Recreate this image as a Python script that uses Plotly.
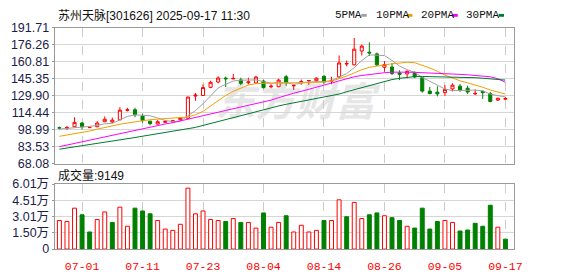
import plotly.graph_objects as go

W, H = 578, 276

dates = ["06-26", "06-27", "06-30", "07-01", "07-02", "07-03", "07-04", "07-07", "07-08", "07-09",
         "07-10", "07-11", "07-14", "07-15", "07-16", "07-17", "07-18", "07-21", "07-22", "07-23",
         "07-24", "07-25", "07-28", "07-29", "07-30", "07-31", "08-01", "08-04", "08-05", "08-06",
         "08-07", "08-08", "08-11", "08-12", "08-13", "08-14", "08-15", "08-18", "08-19", "08-20",
         "08-21", "08-22", "08-25", "08-26", "08-27", "08-28", "08-29", "09-01", "09-02", "09-03",
         "09-04", "09-05", "09-08", "09-09", "09-10", "09-11", "09-12", "09-15", "09-16", "09-17"]

opens = [100.7, 100.2, 101.6, 105.0, 100.8, 101.6, 106.2, 105.9, 107.9, 116.5,
         117.0, 111.3, 106.7, 104.0, 105.6, 106.1, 108.0, 109.3, 129.5, 130.0,
         137.4, 142.3, 145.8, 145.1, 144.2, 141.6, 141.4, 143.1, 137.9, 138.0,
         147.0, 138.8, 142.0, 143.4, 143.4, 147.4, 142.9, 146.8, 158.6, 157.9,
         170.4, 169.3, 167.8, 155.6, 155.9, 150.5, 149.6, 150.8, 146.2, 134.0,
         133.0, 132.6, 136.0, 138.5, 136.6, 131.5, 133.8, 131.7, 125.8, 126.6]
highs = [101.8, 102.4, 110.2, 105.9, 101.5, 106.7, 111.0, 109.9, 119.5, 118.7,
         118.9, 113.6, 106.9, 107.6, 107.6, 107.8, 110.0, 128.8, 132.3, 140.0,
         143.4, 147.4, 147.2, 149.6, 146.2, 146.2, 147.8, 144.5, 140.2, 145.2,
         148.7, 140.2, 144.5, 143.8, 146.5, 148.7, 147.0, 166.4, 161.8, 182.3,
         176.3, 178.3, 169.0, 161.3, 159.6, 153.0, 153.0, 152.0, 146.4, 137.7,
         138.3, 139.4, 141.1, 140.5, 138.9, 135.5, 134.0, 133.2, 128.0, 128.6]
lows = [99.3, 98.6, 101.2, 99.1, 100.4, 101.2, 105.8, 104.8, 107.5, 115.5,
        110.2, 105.3, 102.8, 103.8, 105.3, 105.4, 106.8, 108.4, 125.2, 129.8,
        136.6, 141.1, 137.7, 144.9, 139.4, 140.0, 140.5, 136.5, 136.6, 137.5,
        138.9, 135.1, 139.7, 139.7, 142.2, 140.8, 140.2, 146.0, 156.4, 157.3,
        166.4, 165.8, 156.8, 151.6, 148.7, 144.0, 145.7, 145.9, 132.6, 131.2,
        129.2, 129.7, 133.8, 133.4, 131.5, 130.3, 126.9, 123.8, 125.2, 125.9]
closes = [100.4, 100.9, 105.6, 101.6, 101.0, 105.0, 108.4, 107.6, 116.7, 117.0,
          112.5, 107.3, 104.5, 106.2, 106.3, 107.1, 109.5, 128.6, 130.3, 137.2,
          142.0, 145.9, 145.2, 145.5, 141.1, 142.3, 146.8, 137.1, 138.5, 144.0,
          141.7, 139.1, 142.5, 143.6, 145.7, 142.3, 143.6, 159.6, 159.0, 172.1,
          174.9, 168.7, 157.9, 158.1, 149.9, 149.2, 151.9, 146.8, 134.0, 131.7,
          131.5, 135.5, 139.4, 134.6, 133.2, 131.9, 132.6, 124.6, 127.5, 127.3]

ma5 = [99.5, 100.0, 101.0, 101.3, 101.9, 102.8, 104.3, 104.7, 107.7, 111.0,
       112.4, 112.2, 111.6, 109.5, 107.3, 106.3, 106.7, 111.5, 116.3, 122.5,
       129.5, 136.8, 140.2, 143.2, 143.9, 144.0, 144.2, 142.6, 141.2, 141.7,
       141.6, 140.1, 141.2, 142.2, 142.5, 142.6, 143.5, 147.0, 150.0, 155.3,
       161.8, 166.9, 166.5, 166.3, 161.9, 156.7, 153.4, 151.1, 146.4, 142.7,
       139.2, 135.9, 134.4, 134.5, 134.8, 134.9, 134.3, 131.3, 129.9, 128.7]
ma10 = [92.9, 94.0, 95.3, 96.5, 97.7, 99.4, 101.0, 102.5, 103.9, 105.0,
        106.2, 107.2, 108.0, 108.5, 109.0, 109.3, 109.4, 110.5, 112.5, 115.5,
        120.5, 125.5, 130.0, 133.8, 137.0, 139.5, 140.8, 141.2, 141.2, 141.3,
        141.5, 141.5, 141.6, 141.7, 141.8, 142.2, 143.0, 145.0, 147.7, 150.5,
        153.5, 155.6, 156.9, 157.8, 158.8, 159.6, 160.2, 159.8, 157.5, 155.0,
        152.0, 148.5, 146.0, 143.3, 141.5, 139.6, 137.5, 135.0, 133.0, 131.3]
ma20 = [83.5, 85.0, 86.6, 88.2, 89.6, 91.2, 92.6, 94.0, 95.4, 97.0,
        98.6, 100.2, 101.5, 102.8, 104.1, 105.3, 107.0, 108.3, 110.0, 111.5,
        113.2, 114.8, 116.4, 118.0, 119.5, 121.0, 122.4, 124.0, 125.8, 128.0,
        130.3, 132.1, 133.8, 135.5, 137.2, 139.3, 141.3, 143.3, 145.5, 147.0,
        148.2, 149.2, 150.0, 150.7, 151.2, 151.4, 151.2, 151.0, 150.8, 150.6,
        150.2, 149.8, 149.5, 149.2, 148.8, 148.3, 147.8, 147.0, 145.3, 142.0]
ma30 = [81.2, 82.2, 83.2, 84.5, 85.6, 86.8, 87.8, 88.7, 89.6, 90.7,
        91.8, 93.0, 94.1, 95.2, 96.2, 97.2, 98.5, 99.8, 101.0, 102.8,
        104.6, 106.6, 108.4, 110.2, 112.0, 113.6, 115.3, 117.0, 118.8, 120.5,
        122.0, 123.3, 124.5, 125.6, 126.8, 128.2, 129.8, 131.3, 133.4, 135.3,
        137.2, 139.3, 141.3, 143.0, 144.5, 145.6, 146.5, 147.2, 147.3, 147.2,
        147.0, 146.8, 146.8, 146.7, 146.5, 146.2, 145.7, 145.2, 144.6, 144.0]

# volume in 万 (10k shares)
volumes = [2.64, 2.55, 3.78, 3.17, 1.58, 2.73, 3.43, 2.46, 3.87, 2.11,
           3.78, 3.52, 3.26, 2.64, 1.85, 1.73, 2.29, 5.63, 3.26, 3.52,
           2.73, 2.64, 2.55, 2.82, 2.46, 2.46, 1.94, 3.34, 2.02, 2.46,
           3.08, 1.58, 2.20, 1.58, 1.73, 2.64, 2.64, 4.55, 2.99, 4.31,
           2.82, 3.17, 3.34, 3.08, 2.90, 2.64, 2.11, 1.94, 3.78, 1.85,
           2.55, 2.64, 2.46, 1.67, 1.76, 2.38, 2.11, 4.05, 2.02, 0.9149]
vol_dir = ["R", "R", "R", "G", "G", "R", "R", "G", "R", "R",
           "G", "G", "G", "R", "R", "R", "R", "R", "R", "R",
           "R", "R", "G", "R", "G", "R", "R", "G", "R", "R",
           "G", "R", "R", "R", "R", "G", "R", "R", "G", "R",
           "R", "G", "G", "R", "G", "G", "R", "G", "G", "G",
           "G", "R", "R", "G", "G", "G", "G", "G", "R", "G"]

price_ticks = [68.08, 83.53, 98.99, 114.44, 129.90, 145.35, 160.81, 176.26, 191.71]
price_labels = ["68.08", "83.53", "98.99", "114.44", "129.90", "145.35", "160.81", "176.26", "191.71"]
vol_ticks = [0, 1.50, 3.01, 4.51, 6.01]
vol_labels = ["0", "1.50万", "3.01万", "4.51万", "6.01万"]
date_tick_idx = [3, 11, 19, 27, 35, 43, 51, 59]

title_text = "苏州天脉[301626] 2025-09-17 11:30"
vol_title = "成交量:9149"
legend_items = [("5PMA", "#a0a0a0"), ("10PMA", "#f0a000"), ("20PMA", "#ff00ff"), ("30PMA", "#007a30")]

RED = "#ff0000"
GREEN = "#008000"
GRID = "#d6d6d6"
BORDER = "#999999"
LABEL = "#1c1c48"


def px(x):
    return x / W


def py(y):
    return 1 - y / H


fig = go.Figure()

fig.add_trace(go.Candlestick(
    x=dates, open=opens, high=highs, low=lows, close=closes,
    increasing=dict(line=dict(color=RED, width=1), fillcolor="#ffffff"),
    decreasing=dict(line=dict(color=GREEN, width=1), fillcolor=GREEN),
    whiskerwidth=0, xaxis="x", yaxis="y", showlegend=False, hoverinfo="skip"))

for vals, (name, color) in zip([ma5, ma10, ma20, ma30], legend_items):
    fig.add_trace(go.Scatter(x=dates, y=vals, mode="lines", name=name,
                             line=dict(color=color, width=1), xaxis="x", yaxis="y",
                             showlegend=False, hoverinfo="skip"))

fig.add_trace(go.Bar(
    x=dates, y=volumes, xaxis="x2", yaxis="y2", width=0.52,
    marker=dict(color=["#ffffff" if d == "R" else GREEN for d in vol_dir],
                line=dict(color=[RED if d == "R" else GREEN for d in vol_dir], width=1)),
    showlegend=False, hoverinfo="skip"))

xr = [-0.63, 60.12]
xdom = [px(55.5), px(522)]
tickdates = [dates[i] for i in date_tick_idx]

common_x = dict(type="category", range=xr, domain=xdom, showgrid=True, gridcolor="#cccccc",
                griddash="dash", gridwidth=1, tickvals=tickdates, showline=True, linecolor=BORDER,
                linewidth=1, mirror=True, zeroline=False, fixedrange=True)

fig.update_layout(
    width=W, height=H, margin=dict(l=0, r=0, t=0, b=0),
    paper_bgcolor="#ffffff", plot_bgcolor="rgba(0,0,0,0)",
    showlegend=False, boxgap=0.42, bargap=0.4,
    xaxis=dict(**common_x, ticks="", anchor="y", showticklabels=False,
               rangeslider=dict(visible=False)),
    yaxis=dict(domain=[py(165), py(21.7)], range=[68.08, 191.71], tickvals=price_ticks,
               ticktext=price_labels, showgrid=True, gridcolor=GRID, gridwidth=1,
               showline=True, linecolor=BORDER, mirror=True, ticks="outside", ticklen=2,
               tickcolor=BORDER, zeroline=False, anchor="x",
               tickfont=dict(family="Liberation Sans, Arial, sans-serif", size=12.5, color=LABEL),
               fixedrange=True),
    xaxis2=dict(**common_x, anchor="y2", showticklabels=True, ticktext=tickdates,
                ticks="outside", ticklen=6, tickcolor="rgba(0,0,0,0)",
                tickfont=dict(family="Liberation Mono, monospace", size=11.5, color=RED)),
    yaxis2=dict(domain=[py(255), py(186.5)], range=[0, 6.01], tickvals=vol_ticks,
                ticktext=vol_labels, showgrid=True, gridcolor=GRID, gridwidth=1,
                showline=True, linecolor=BORDER, mirror=True, ticks="outside", ticklen=2,
                tickcolor=BORDER, zeroline=False, anchor="x2",
                tickfont=dict(family="Liberation Sans, Noto Sans CJK SC, sans-serif", size=12.5, color=LABEL),
                fixedrange=True),
)

annotations = [
    dict(text=title_text, x=px(56.5), y=py(8.5), xref="paper", yref="paper",
         xanchor="left", yanchor="middle", showarrow=False,
         font=dict(family="Liberation Sans, Noto Sans CJK SC, sans-serif", size=12, color="#111111")),
    dict(text=vol_title, x=px(56.5), y=py(177), xref="paper", yref="paper",
         xanchor="left", yanchor="middle", showarrow=False,
         font=dict(family="Liberation Sans, Noto Sans CJK SC, sans-serif", size=12, color="#111111")),
]
legend_x = [338.3, 380, 425.7, 471.7]
marker_x = [367, 413.5, 459.5, 506.5]
shapes = []
for (name, color), lx, mx in zip(legend_items, legend_x, marker_x):
    annotations.append(dict(text=name, x=px(lx), y=py(8.5), xref="paper", yref="paper",
                            xanchor="left", yanchor="middle", showarrow=False,
                            font=dict(family="Liberation Mono, monospace", size=11, color="#111111")))
    shapes.append(dict(type="rect", xref="paper", yref="paper", x0=px(mx), x1=px(mx + 5.5),
                       y0=py(10.3), y1=py(7.3), fillcolor=color, line=dict(width=0)))

# faint watermark
shapes.append(dict(type="rect", xref="paper", yref="paper", x0=px(210), x1=px(390),
                   y0=py(125), y1=py(82), line=dict(width=0), fillcolor="rgba(0,0,0,0)",
                   layer="below",
                   label=dict(text="东方财富", textposition="middle center",
                              font=dict(family="Noto Sans CJK SC", size=40, color="#e6e6e6",
                                        weight="bold", style="italic"))))

fig.update_layout(annotations=annotations, shapes=shapes)

fig.write_html("out.html", config={"displayModeBar": False})
